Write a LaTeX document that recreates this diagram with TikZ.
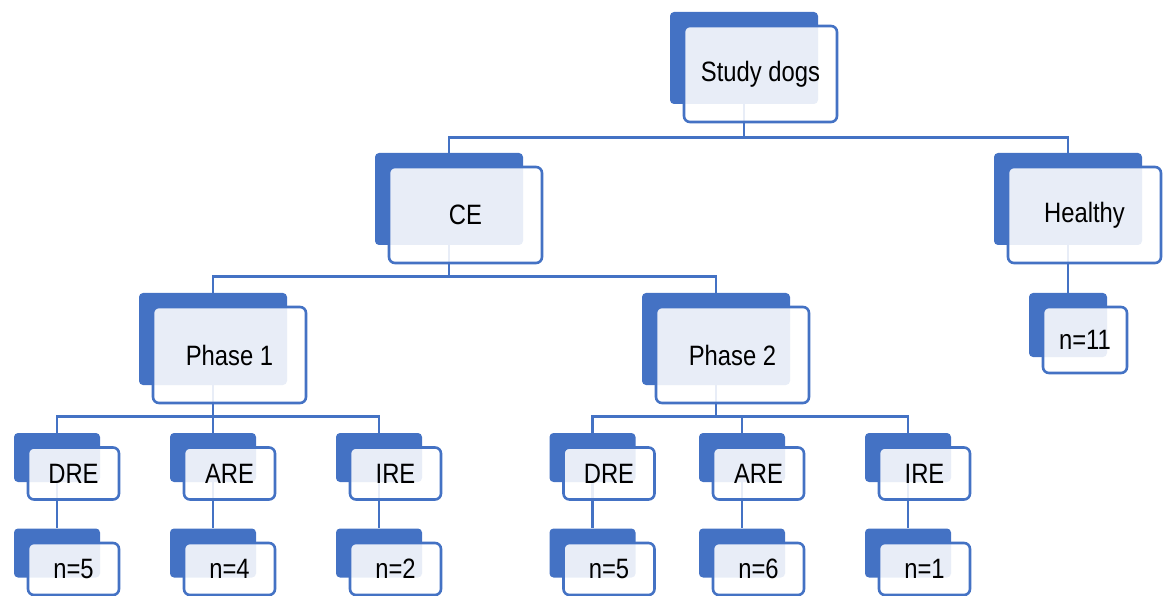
\documentclass[tikz,border=0pt]{standalone}
\usepackage{fontspec}
\setmainfont[FakeStretch=0.85]{Liberation Sans}
\definecolor{dogblue}{HTML}{4472C4}
\tikzset{
  back/.style={fill=dogblue, rounded corners=4pt, inner sep=0pt},
  bigback/.style={back, minimum width=148pt, minimum height=92pt},
  smallback/.style={back, minimum width=86pt, minimum height=49pt},
  front/.style={draw=dogblue, line width=2.6pt, fill=white, fill opacity=0.88, text opacity=1,
    rounded corners=6pt, inner sep=0pt, font=\fontsize{28}{32}\selectfont},
  bigfront/.style={front, minimum width=153pt, minimum height=96pt},
  smallfront/.style={front, minimum width=91pt, minimum height=52pt},
  link/.style={draw=dogblue, line width=2.8pt}
}
\begin{document}
\begin{tikzpicture}[x=1pt, y=-1pt]
  \useasboundingbox (0,0) rectangle (1168,596);
  % back boxes
  \node[bigback] (sd) at (744,58) {};
  \node[bigback] (ce) at (449,199) {};
  \node[bigback] (he) at (1068,199) {};
  \node[bigback] (p1) at (213,339) {};
  \node[bigback] (p2) at (716,339) {};
  \node[back, minimum width=78pt, minimum height=64pt] (hen) at (1068,325) {};
  \node[smallback] (dre1) at (57,457.5) {};
  \node[smallback] (are1) at (213,457.5) {};
  \node[smallback] (ire1) at (379,457.5) {};
  \node[smallback] (dre2) at (592.5,457.5) {};
  \node[smallback] (are2) at (742,457.5) {};
  \node[smallback] (ire2) at (908,457.5) {};
  \node[smallback] (dre1n) at (57,553) {};
  \node[smallback] (are1n) at (213,553) {};
  \node[smallback] (ire1n) at (379,553) {};
  \node[smallback] (dre2n) at (592.5,553) {};
  \node[smallback] (are2n) at (742,553) {};
  \node[smallback] (ire2n) at (908,553) {};
  % connectors
  \draw[link] (sd.south) -- ++(0,33) coordinate (b1);
  \draw[link] (ce.north) |- (b1) -| (he.north);
  \draw[link] (ce.south) -- ++(0,31) coordinate (b2);
  \draw[link] (p1.north) |- (b2) -| (p2.north);
  \draw[link] (p1.south) -- ++(0,31) coordinate (b3);
  \draw[link] (dre1.north) |- (b3) -| (ire1.north);
  \draw[link] (b3) -- (are1.north);
  \draw[link] (p2.south) -- ++(0,31) coordinate (b4);
  \draw[link] (dre2.north) |- (b4) -| (ire2.north);
  \draw[link] (b4 -| are2.north) -- (are2.north);
  \draw[link] (he.south) -- (hen.north);
  \draw[link] (dre1.south) -- (dre1n.north);
  \draw[link] (are1.south) -- (are1n.north);
  \draw[link] (ire1.south) -- (ire1n.north);
  \draw[link] (dre2.south) -- (dre2n.north);
  \draw[link] (are2.south) -- (are2n.north);
  \draw[link] (ire2.south) -- (ire2n.north);
  % front boxes
  \node[bigfront] (sdt) at ([shift={(16.5,16)}]sd) {Study dogs};
  \node[bigfront] (cet) at ([shift={(16.5,16)}]ce) {CE};
  \node[bigfront] (het) at ([shift={(16.5,16)}]he) {Healthy};
  \node[bigfront] (p1t) at ([shift={(16.5,16)}]p1) {Phase 1};
  \node[bigfront] (p2t) at ([shift={(16.5,16)}]p2) {Phase 2};
  \node[front, minimum width=84pt, minimum height=66pt] (hent) at ([shift={(17,15)}]hen) {n=11};
  \node[smallfront] (dre1t) at ([shift={(16.5,16)}]dre1) {DRE};
  \node[smallfront] (are1t) at ([shift={(16.5,16)}]are1) {ARE};
  \node[smallfront] (ire1t) at ([shift={(16.5,16)}]ire1) {IRE};
  \node[smallfront] (dre2t) at ([shift={(16.5,16)}]dre2) {DRE};
  \node[smallfront] (are2t) at ([shift={(16.5,16)}]are2) {ARE};
  \node[smallfront] (ire2t) at ([shift={(16.5,16)}]ire2) {IRE};
  \node[smallfront] (dre1nt) at ([shift={(16.5,16)}]dre1n) {n=5};
  \node[smallfront] (are1nt) at ([shift={(16.5,16)}]are1n) {n=4};
  \node[smallfront] (ire1nt) at ([shift={(16.5,16)}]ire1n) {n=2};
  \node[smallfront] (dre2nt) at ([shift={(16.5,16)}]dre2n) {n=5};
  \node[smallfront] (are2nt) at ([shift={(16.5,16)}]are2n) {n=6};
  \node[smallfront] (ire2nt) at ([shift={(16.5,16)}]ire2n) {n=1};
\end{tikzpicture}
\end{document}
